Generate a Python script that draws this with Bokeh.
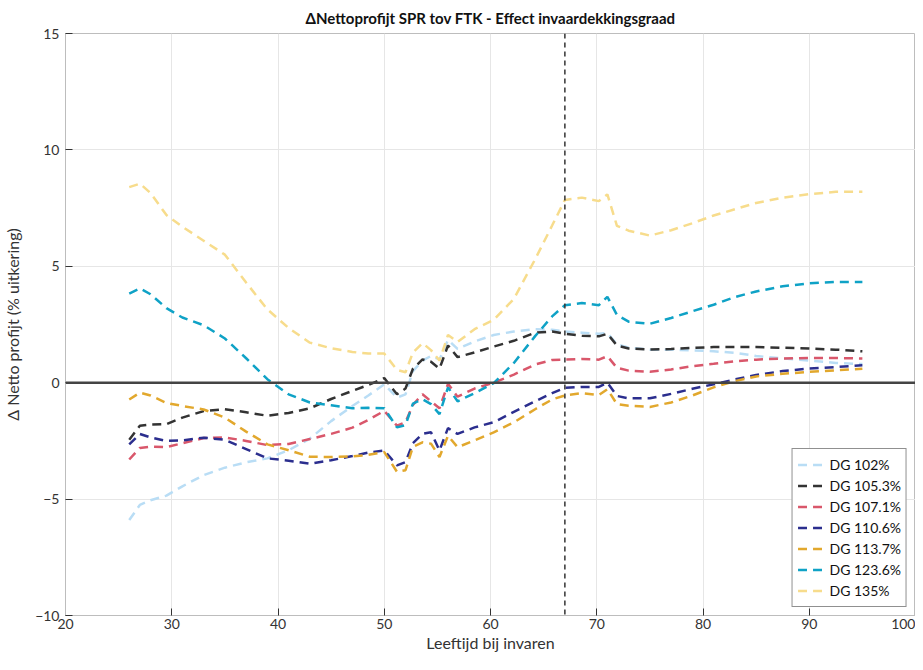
from bokeh.plotting import figure
from bokeh.models import Span, Legend, LegendItem, FixedTicker, Range1d
from bokeh.embed import file_html
from bokeh.resources import INLINE

# ---- data ----
ages = [26, 27, 28, 29.5, 31, 33, 35, 37, 39, 41, 43, 45, 47, 48.5, 50, 51.2, 52, 52.7,
        53.6, 54.4, 55.2, 56, 56.9, 58.5, 60.3, 62.2, 64.2, 65.8, 67, 68.6, 70.2, 71,
        71.9, 73, 75, 77, 79, 81, 83, 85, 87.5, 90, 92.5, 95]

dg_102 = [-5.9, -5.25, -5.05, -4.85, -4.45, -3.97, -3.65, -3.42, -3.25, -2.9, -2.4, -1.65,
          -1.0, -0.55, -0.07, -0.64, -0.5, 0.5, 0.95, 1.15, 1.0, 1.84, 1.45, 1.77, 2.05, 2.2,
          2.3, 2.27, 2.2, 2.15, 2.1, 2.13, 1.65, 1.5, 1.42, 1.42, 1.39, 1.35, 1.28, 1.15,
          1.04, 0.95, 0.85, 0.8]
dg_105_3 = [-2.45, -1.85, -1.8, -1.78, -1.5, -1.22, -1.14, -1.27, -1.42, -1.3, -1.1, -0.7,
            -0.35, -0.1, 0.2, -0.5, -0.25, 0.6, 1.0, 0.9, 0.6, 1.6, 1.1, 1.3, 1.55, 1.8,
            2.15, 2.2, 2.1, 2.02, 1.99, 2.1, 1.6, 1.47, 1.42, 1.45, 1.5, 1.53, 1.53, 1.53,
            1.5, 1.47, 1.42, 1.35]
dg_107_1 = [-3.3, -2.8, -2.75, -2.77, -2.6, -2.38, -2.35, -2.5, -2.68, -2.63, -2.42, -2.2,
            -1.93, -1.6, -1.21, -1.85, -1.7, -0.95, -0.5, -0.8, -1.1, -0.05, -0.6, -0.25,
            0.0, 0.35, 0.78, 0.98, 0.99, 1.02, 0.99, 1.14, 0.64, 0.52, 0.47, 0.57, 0.71,
            0.81, 0.92, 0.99, 1.04, 1.06, 1.06, 1.04]
dg_110_6 = [-2.65, -2.2, -2.35, -2.5, -2.48, -2.36, -2.45, -2.85, -3.25, -3.35, -3.48, -3.33,
            -3.15, -3.0, -2.91, -3.55, -3.41, -2.6, -2.2, -2.13, -2.91, -1.95, -2.2, -1.92,
            -1.7, -1.25, -0.8, -0.45, -0.22, -0.18, -0.18, 0.0, -0.57, -0.67, -0.67, -0.48,
            -0.26, -0.07, 0.14, 0.33, 0.5, 0.61, 0.67, 0.75]
dg_113_7 = [-0.72, -0.43, -0.55, -0.87, -1.0, -1.15, -1.5, -2.1, -2.65, -2.9, -3.18, -3.19,
            -3.17, -3.1, -2.98, -3.83, -3.76, -2.75, -2.56, -2.62, -3.19, -2.28, -2.77, -2.48,
            -2.13, -1.7, -1.14, -0.72, -0.55, -0.45, -0.53, -0.28, -0.92, -0.99, -1.04, -0.85,
            -0.55, -0.2, 0.07, 0.27, 0.38, 0.47, 0.53, 0.6]
dg_123_6 = [3.83, 4.05, 3.8, 3.2, 2.8, 2.47, 1.9, 1.05, 0.15, -0.5, -0.85, -0.97, -1.1, -1.08,
            -1.1, -1.92, -1.82, -0.9, -0.71, -0.92, -1.35, -0.2, -0.8, -0.45, -0.02, 0.85,
            2.0, 2.85, 3.33, 3.42, 3.33, 3.69, 2.91, 2.62, 2.53, 2.78, 3.07, 3.35, 3.68,
            3.92, 4.14, 4.27, 4.33, 4.33]
dg_135 = [8.4, 8.55, 8.15, 7.2, 6.7, 6.1, 5.5, 4.3, 3.15, 2.35, 1.72, 1.48, 1.32, 1.25, 1.25,
          0.55, 0.45, 1.3, 1.7, 1.4, 0.95, 2.05, 1.75, 2.3, 2.7, 3.6, 5.3, 6.75, 7.85, 7.95,
          7.8, 8.09, 6.74, 6.53, 6.32, 6.55, 6.85, 7.18, 7.45, 7.72, 7.95, 8.1, 8.2, 8.2]

series_labels = ["DG 102%", "DG 105.3%", "DG 107.1%", "DG 110.6%", "DG 113.7%",
                 "DG 123.6%", "DG 135%"]
series_values = [dg_102, dg_105_3, dg_107_1, dg_110_6, dg_113_7, dg_123_6, dg_135]
series_colors = ["#B9DDF5", "#333333", "#D9576B", "#2B2E8E", "#E2A82D", "#0FA2C6", "#F7DC8C"]

x_ticks = [20, 30, 40, 50, 60, 70, 80, 90, 100]
y_ticks = [-10, -5, 0, 5, 10, 15]
retirement_age = 67
zero_level = 0

FONT = "Lato"

p = figure(width=915, height=654, output_backend="svg", toolbar_location=None,
           x_range=Range1d(20, 100), y_range=Range1d(-10, 15),
           title="ΔNettoprofijt SPR tov FTK - Effect invaardekkingsgraad",
           min_border_left=4, min_border_right=0, min_border_top=4, min_border_bottom=0)

p.title.align = "center"
p.title.text_font = FONT
p.title.text_font_size = "15px"
p.title.text_font_style = "bold"
p.title.text_color = "#111111"
p.title.offset = 0
p.title.standoff = 13

p.outline_line_color = "#BDBDBD"
p.outline_line_width = 1
p.background_fill_color = "white"
p.border_fill_color = "white"

for ax, ticks in ((p.xaxis, x_ticks), (p.yaxis, y_ticks)):
    ax.ticker = FixedTicker(ticks=ticks)
    ax.axis_line_color = "#BDBDBD"
    ax.major_tick_in = 7
    ax.major_tick_out = 0
    ax.major_tick_line_color = "#333333"
    ax.minor_tick_line_color = None
    ax.major_label_text_font = FONT
    ax.major_label_text_font_size = "14px"
    ax.major_label_text_color = "#333333"
    ax.axis_label_text_font = FONT
    ax.axis_label_text_font_size = "16px"
    ax.axis_label_text_font_style = "normal"
    ax.axis_label_text_color = "#333333"

p.xaxis.axis_label = "Leeftijd bij invaren"
p.yaxis.axis_label = "Δ Netto profijt (% uitkering)"
p.xaxis.major_label_standoff = 3
p.yaxis.major_label_standoff = 6
p.xaxis.axis_label_standoff = 1
p.yaxis.axis_label_standoff = 10

p.xgrid.ticker = FixedTicker(ticks=x_ticks)
p.ygrid.ticker = FixedTicker(ticks=y_ticks)
p.grid.grid_line_color = "#E6E6E6"
p.grid.grid_line_width = 1

p.add_layout(Span(location=zero_level, dimension="width", line_color="#444444",
                  line_width=2.5))
p.add_layout(Span(location=retirement_age, dimension="height", line_color="#333333",
                  line_width=1.5, line_dash="5 4"))

items = []
for lab, vals, col in zip(series_labels, series_values, series_colors):
    r = p.line(ages, vals, line_color=col, line_width=2.5, line_dash="9 6")
    items.append(LegendItem(label=lab, renderers=[r]))

legend = Legend(items=items, location="bottom_right")
legend.label_text_font = FONT
legend.label_text_font_size = "14px"
legend.label_text_color = "#111111"
legend.border_line_color = "#222222"
legend.border_line_width = 1
legend.background_fill_alpha = 1
legend.spacing = 0
legend.label_height = 21
legend.glyph_height = 21
legend.glyph_width = 30
legend.label_standoff = 2
legend.padding = 5
legend.margin = 8
p.add_layout(legend)

open("out.html", "w").write(file_html(p, INLINE))
